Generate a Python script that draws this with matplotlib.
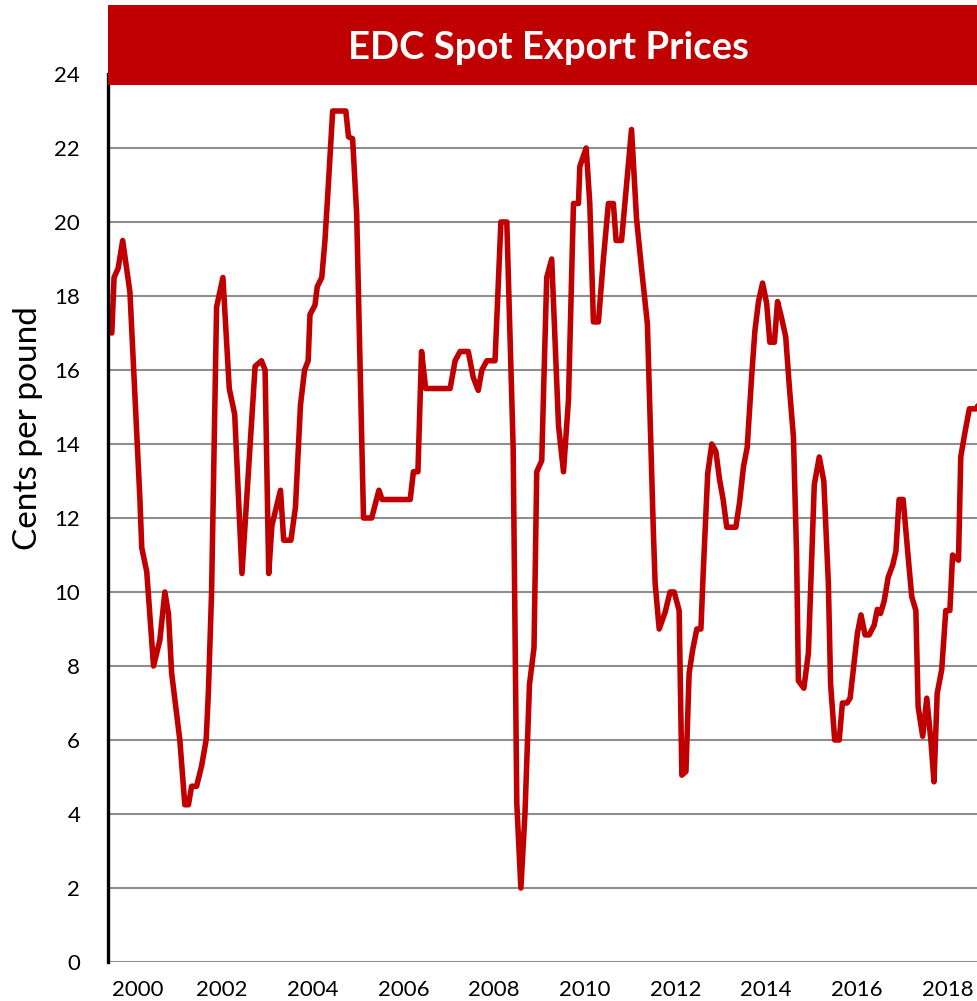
import matplotlib
matplotlib.use("Agg")
import matplotlib.pyplot as plt
from matplotlib.patches import Rectangle

# ---- data (decimal years, cents per pound) ----
dates = [
    1999.57, 1999.62, 1999.71, 1999.81, 1999.97, 2000.19, 2000.23, 2000.34, 2000.49, 2000.63,
    2000.74, 2000.82, 2000.89, 2001.07, 2001.18, 2001.26, 2001.33, 2001.44, 2001.55, 2001.65,
    2001.70, 2001.77, 2001.88, 2002.02, 2002.16, 2002.28, 2002.44, 2002.73, 2002.87, 2002.95,
    2003.03, 2003.10, 2003.29, 2003.36, 2003.52, 2003.62, 2003.73, 2003.82, 2003.90, 2003.94,
    2004.05, 2004.10, 2004.20, 2004.27, 2004.34, 2004.44, 2004.73, 2004.79, 2004.88, 2004.97,
    2005.12, 2005.30, 2005.46, 2005.53, 2006.15, 2006.22, 2006.32, 2006.40, 2006.49, 2007.03,
    2007.14, 2007.25, 2007.43, 2007.54, 2007.65, 2007.73, 2007.84, 2008.02, 2008.15, 2008.28,
    2008.42, 2008.50, 2008.59, 2008.68, 2008.78, 2008.88, 2008.94, 2009.05, 2009.09, 2009.16,
    2009.27, 2009.42, 2009.53, 2009.64, 2009.75, 2009.86, 2009.89, 2010.03, 2010.11, 2010.19,
    2010.30, 2010.41, 2010.52, 2010.63, 2010.69, 2010.81, 2010.92, 2011.03, 2011.14, 2011.25,
    2011.38, 2011.51, 2011.55, 2011.64, 2011.77, 2011.88, 2011.97, 2012.08, 2012.14, 2012.23,
    2012.30, 2012.38, 2012.47, 2012.56, 2012.61, 2012.71, 2012.80, 2012.89, 2012.97, 2013.05,
    2013.13, 2013.33, 2013.41, 2013.50, 2013.58, 2013.68, 2013.75, 2013.83, 2013.92, 2014.01,
    2014.08, 2014.18, 2014.25, 2014.34, 2014.43, 2014.51, 2014.60, 2014.67, 2014.71, 2014.83,
    2014.93, 2015.06, 2015.17, 2015.27, 2015.37, 2015.42, 2015.51, 2015.61, 2015.68, 2015.78,
    2015.85, 2016.01, 2016.09, 2016.18, 2016.27, 2016.38, 2016.45, 2016.52, 2016.60, 2016.69,
    2016.79, 2016.86, 2016.93, 2017.02, 2017.13, 2017.21, 2017.30, 2017.35, 2017.45, 2017.54,
    2017.63, 2017.70, 2017.77, 2017.87, 2017.96, 2018.05, 2018.11, 2018.24, 2018.29, 2018.38,
    2018.48, 2018.63, 2018.70,
]
prices = [
    17.0, 18.5, 18.75, 19.5, 18.1, 12.5, 11.2, 10.55, 8.0, 8.7,
    10.0, 9.4, 7.8, 6.0, 4.25, 4.25, 4.75, 4.75, 5.3, 6.0,
    7.3, 10.0, 17.7, 18.5, 15.5, 14.8, 10.5, 16.1, 16.25, 16.0,
    10.5, 11.8, 12.75, 11.4, 11.4, 12.3, 15.05, 16.0, 16.25, 17.5,
    17.75, 18.25, 18.5, 19.5, 20.9, 23.0, 23.0, 22.3, 22.25, 20.2,
    12.0, 12.0, 12.75, 12.5, 12.5, 13.25, 13.25, 16.5, 15.5, 15.5,
    16.25, 16.5, 16.5, 15.8, 15.45, 16.0, 16.25, 16.25, 20.0, 20.0,
    13.9, 4.3, 2.0, 4.0, 7.5, 8.5, 13.25, 13.55, 15.4, 18.5,
    19.0, 14.5, 13.25, 15.2, 20.5, 20.5, 21.5, 22.0, 20.5, 17.3,
    17.3, 19.0, 20.5, 20.5, 19.5, 19.5, 21.0, 22.5, 20.1, 18.75,
    17.25, 11.7, 10.25, 9.0, 9.45, 10.0, 10.0, 9.5, 5.05, 5.15,
    7.8, 8.45, 9.0, 9.0, 10.5, 13.2, 14.0, 13.8, 13.05, 12.5,
    11.75, 11.75, 12.4, 13.4, 13.9, 15.85, 17.05, 17.85, 18.35, 17.8,
    16.75, 16.75, 17.85, 17.4, 16.9, 15.55, 14.2, 11.0, 7.6, 7.4,
    8.35, 12.9, 13.65, 13.0, 10.25, 7.5, 6.0, 6.0, 7.0, 7.0,
    7.13, 8.88, 9.38, 8.84, 8.84, 9.1, 9.53, 9.42, 9.75, 10.4,
    10.73, 11.1, 12.5, 12.5, 10.95, 9.87, 9.5, 6.9, 6.1, 7.13,
    6.0, 4.87, 7.26, 7.9, 9.5, 9.5, 11.0, 10.86, 13.65, 14.3,
    14.95, 14.95, 15.1,
]
year_labels = ["2000", "2002", "2004", "2006", "2008", "2010", "2012", "2014", "2016", "2018"]
y_ticks = [0, 2, 4, 6, 8, 10, 12, 14, 16, 18, 20, 22, 24]
title = "EDC Spot Export Prices"
ylabel = "Cents per pound"

RED = "#C00000"
FONT = "Lato"

W, H = 977, 1001
fig = plt.figure(figsize=(W / 100, H / 100), dpi=100)
ax = fig.add_axes([108 / W, 1 - 962 / H, 869 / W, 888 / H])

ax.plot(dates, prices, color=RED, lw=4.0, solid_joinstyle="round", solid_capstyle="round", zorder=3)

ax.set_xlim(1999.486, 2018.648)
ax.set_ylim(0, 24)
ax.set_yticks(y_ticks)
ax.set_yticklabels([str(v) for v in y_ticks], fontsize=16, family=FONT)
tick_pos = [2000.15] + [int(l) for l in year_labels[1:]]
ax.set_xticks(tick_pos)
ax.set_xticklabels(year_labels, fontsize=16, family=FONT)
ax.tick_params(axis="both", length=0)
ax.tick_params(axis="y", pad=20)
ax.tick_params(axis="x", pad=13)

ax.yaxis.grid(True, color="#8E8E8E", lw=1.5)
ax.set_axisbelow(True)
for s in ["top", "right", "bottom"]:
    ax.spines[s].set_visible(False)
ax.spines["left"].set_color("black")
ax.spines["left"].set_linewidth(2.4)
ax.spines["left"].set_zorder(4)

fig.text(28 / W, 1 - 428 / H, ylabel, fontsize=24, family=FONT, rotation=90,
         ha="center", va="center")

# Title bar
bar = Rectangle((108 / W, 1 - 85 / H), 1 - 108 / W, 80 / H, transform=fig.transFigure,
                facecolor=RED, edgecolor="none", zorder=5)
fig.add_artist(bar)
fig.text(548 / W, 1 - 48 / H, title, color="white", fontsize=27.5, fontweight="bold",
         family=FONT, ha="center", va="center", zorder=6)

fig.savefig("out.png", dpi=100)
